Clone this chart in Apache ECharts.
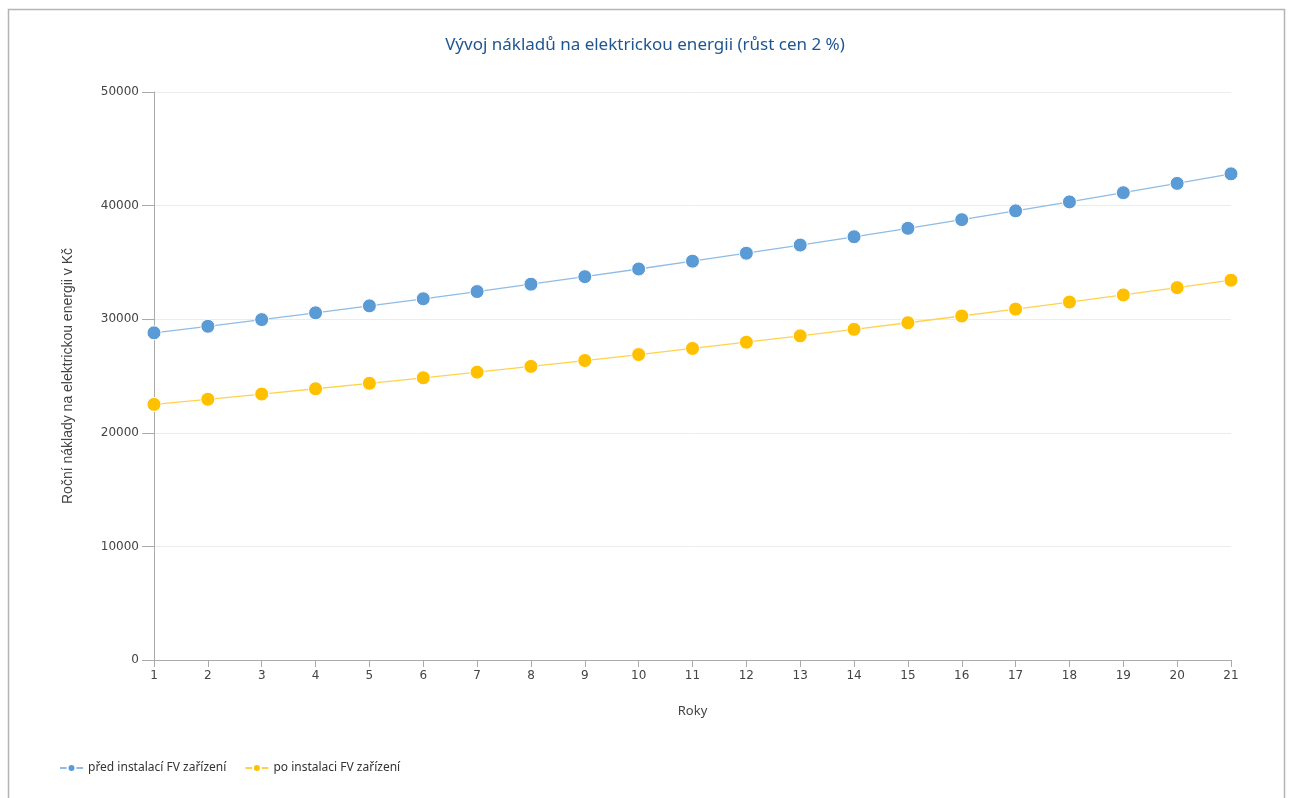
<!DOCTYPE html>
<html>
<head>
<meta charset="utf-8">
<script src="https://cdn.jsdelivr.net/npm/echarts@6/dist/echarts.min.js"></script>
<style>
html,body{margin:0;padding:0;background:#fff;}
#chart{width:1290px;height:798px;}
</style>
</head>
<body>
<div id="chart"></div>
<script>
const years = ['1','2','3','4','5','6','7','8','9','10','11','12','13','14','15','16','17','18','19','20','21'];
const beforeFV = [28800,29376,29964,30563,31174,31798,32434,33082,33744,34419,35107,35809,36526,37256,38001,38761,39536,40327,41134,41956,42795];
const afterFV = [22500,22950,23409,23877,24355,24842,25339,25845,26362,26890,27427,27976,28535,29106,29688,30282,30888,31505,32136,32778,33434];
const seriesNames = ['před instalací FV zařízení','po instalaci FV zařízení'];
const titleText = 'Vývoj nákladů na elektrickou energii (růst cen 2 %)';
const yAxisName = 'Roční náklady na elektrickou energii v Kč';
const xAxisName = 'Roky';

const uiFont = 'Noto Sans';
const tickFont = 'DejaVu Sans';
const chart = echarts.init(document.getElementById('chart'));
chart.setOption({
  backgroundColor: '#fff',
  animation: false,
  graphic: [{
    type: 'rect', left: 6, top: 7, silent: true,
    shape: {width: 1276, height: 800},
    style: {fill: 'none', stroke: '#b4b4b4', lineWidth: 1.5}
  }],
  title: {
    text: titleText, left: 'center', top: 32,
    textStyle: {fontFamily: uiFont, fontSize: 17, fontWeight: 'normal', color: '#1f5591'}
  },
  legend: {
    left: 54, top: 757, itemGap: 18, itemWidth: 23, itemHeight: 10,
    textStyle: {fontFamily: uiFont, fontSize: 12, color: '#333'}
  },
  grid: {left: 154, right: 59, top: 92, bottom: 138},
  xAxis: {
    type: 'category', data: years, boundaryGap: false,
    name: xAxisName, nameLocation: 'middle', nameGap: 45,
    nameTextStyle: {fontFamily: uiFont, fontSize: 13, color: '#444'},
    axisLine: {lineStyle: {color: '#aaa'}},
    axisTick: {alignWithLabel: true, length: 7, lineStyle: {color: '#aaa'}},
    axisLabel: {fontFamily: tickFont, fontSize: 12, color: '#444', margin: 10}
  },
  yAxis: {
    type: 'value', min: 0, max: 50000, interval: 10000,
    name: yAxisName, nameLocation: 'middle', nameGap: 79, nameRotate: 90,
    nameTextStyle: {fontFamily: 'Liberation Sans', fontSize: 14, color: '#444'},
    axisLine: {show: true, lineStyle: {color: '#aaa'}},
    axisTick: {show: true, length: 12, lineStyle: {color: '#aaa'}},
    axisLabel: {fontFamily: tickFont, fontSize: 12, color: '#444', margin: 15, formatter: v => String(v)},
    splitLine: {lineStyle: {color: '#ececec'}}
  },
  series: [
    {
      name: seriesNames[0], type: 'line', data: beforeFV,
      symbol: 'circle', symbolSize: 14,
      itemStyle: {color: '#5b9bd5', borderColor: '#fff', borderWidth: 1},
      lineStyle: {color: '#8ebce6', width: 1.3}
    },
    {
      name: seriesNames[1], type: 'line', data: afterFV,
      symbol: 'circle', symbolSize: 14,
      itemStyle: {color: '#ffc000', borderColor: '#fff', borderWidth: 1},
      lineStyle: {color: '#ffd24d', width: 1.3}
    }
  ]
});
</script>
</body>
</html>
